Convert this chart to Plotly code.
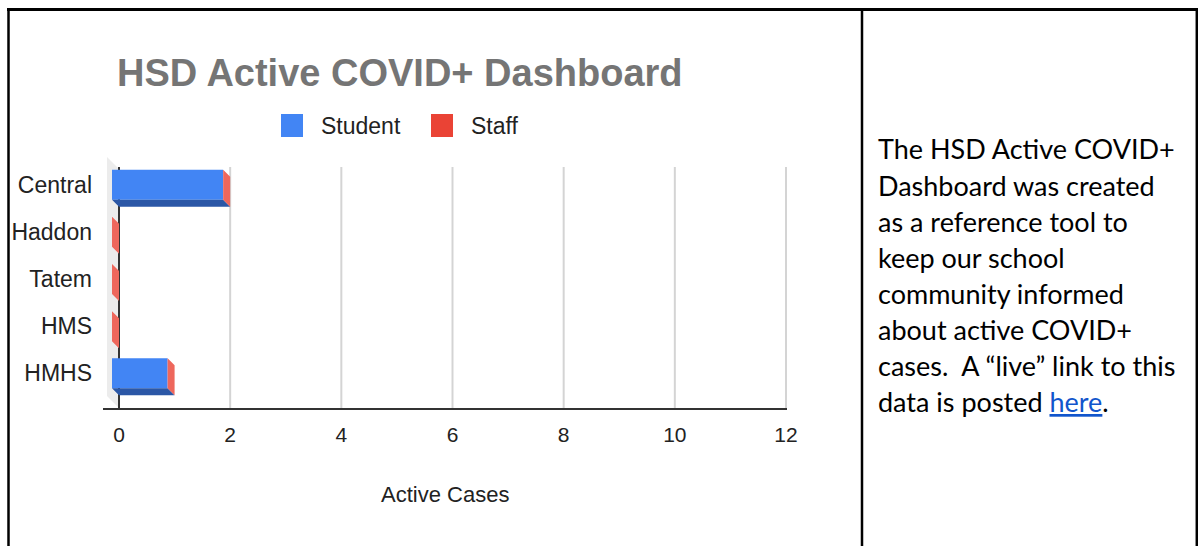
import plotly.graph_objects as go

# ---------------- data ----------------
schools = ["Central", "Haddon", "Tatem", "HMS", "HMHS"]
student = [2, 0, 0, 0, 1]
staff = [0, 0, 0, 0, 0]
x_ticks = [0, 2, 4, 6, 8, 10, 12]
chart_title = "HSD Active COVID+ Dashboard"
x_title = "Active Cases"
series_names = ["Student", "Staff"]
side_lines = [
    "The HSD Active COVID+",
    "Dashboard was created",
    "as a reference tool to",
    "keep our school",
    "community informed",
    "about active COVID+",
    "cases.\u00a0 A \u201clive\u201d link to this",
    "data is posted <span style='color:#1155cc;text-decoration:underline'>here</span>.",
]

# ---------------- styling / geometry ----------------
W, H = 1198, 546
def px(x):
    return x / W
def py(y):
    return 1 - y / H

BLUE = "#4285f4"
BLUE_DARK = "#2b57a6"
RED = "#ea4335"
RED_SIDE = "#ee675c"
RED_DARK = "#a8352b"
WALL = "#ececec"
GRID = "#d4d4d4"
AXIS = "#333333"
TXT = "#222222"

x_range = [-0.288, 12.018]
y_range = [4.587, -0.778]
plot_l, plot_r, plot_t, plot_b = 103, 787, 155, 408
x_unit = (plot_r - plot_l) / (x_range[1] - x_range[0])
y_unit = (plot_b - plot_t) / (y_range[0] - y_range[1])
dx = 7 / x_unit
dy = 7 / y_unit
half = 15 / y_unit
wall_dx = 12 / x_unit
wall_dy = 12 / y_unit
grid_top = (167 - plot_t) / y_unit + y_range[1]

idx = list(range(len(schools)))
front_y = [i - dy for i in idx]

fig = go.Figure()

# front faces
totals = [s + t for s, t in zip(student, staff)]
fig.add_trace(go.Bar(orientation="h", y=front_y, x=student, base=[-dx] * len(idx),
                     width=2 * half, marker=dict(color=BLUE, line=dict(width=0)),
                     name=series_names[0], showlegend=False))
fig.add_trace(go.Bar(orientation="h", y=front_y, x=staff, base=[s - dx for s in student],
                     width=2 * half, marker=dict(color=RED, line=dict(width=0)),
                     name=series_names[1], showlegend=False))

# bottom faces
def bottom_faces(starts, ends):
    xs, ys = [], []
    for i, a, b in zip(idx, starts, ends):
        if b <= a:
            continue
        yf = i - dy + half
        yb = i + half
        xs += [a - dx, b - dx, b, a, a - dx, None]
        ys += [yf, yf, yb, yb, yf, None]
    return xs, ys

bx, by = bottom_faces([0] * len(idx), student)
fig.add_trace(go.Scatter(x=bx, y=by, mode="lines", line=dict(width=0), fill="toself",
                         fillcolor=BLUE_DARK, hoverinfo="skip", showlegend=False))
rx_, ry_ = bottom_faces(student, totals)
if rx_:
    fig.add_trace(go.Scatter(x=rx_, y=ry_, mode="lines", line=dict(width=0), fill="toself",
                             fillcolor=RED_DARK, hoverinfo="skip", showlegend=False))

# right (end) faces of the stacked bars (last series colour)
sx, sy = [], []
for i, e in zip(idx, totals):
    sx += [e - dx, e, e, e - dx, e - dx, None]
    sy += [i - dy - half, i - half, i + half, i - dy + half, i - dy - half, None]
fig.add_trace(go.Scatter(x=sx, y=sy, mode="lines", line=dict(width=0), fill="toself",
                         fillcolor=RED_SIDE, hoverinfo="skip", showlegend=False))

shapes = []
# side wall of the 3D box (behind everything)
wall_top = grid_top + 0.04
wall_pts = [(0, wall_top), (-wall_dx, wall_top - wall_dy), (-wall_dx, y_range[0] - wall_dy), (0, y_range[0])]
wall_path = "M " + " L ".join(f"{a},{b}" for a, b in wall_pts) + " Z"
shapes.append(dict(type="path", xref="x", yref="y", path=wall_path, fillcolor=WALL,
                   line=dict(width=0), layer="below"))
# gridlines on back wall
for t in x_ticks[1:]:
    shapes.append(dict(type="line", xref="x", yref="y", x0=t, x1=t, y0=grid_top, y1=y_range[0],
                       line=dict(color=GRID, width=2), layer="below"))
# zero line
shapes.append(dict(type="line", xref="x", yref="y", x0=0, x1=0, y0=grid_top, y1=y_range[0],
                   line=dict(color=AXIS, width=2), layer="between"))

# legend swatches
shapes.append(dict(type="rect", xref="paper", yref="paper", x0=px(281), x1=px(303),
                   y0=py(137), y1=py(114), fillcolor=BLUE, line=dict(width=0)))
shapes.append(dict(type="rect", xref="paper", yref="paper", x0=px(431), x1=px(453),
                   y0=py(137), y1=py(114), fillcolor=RED, line=dict(width=0)))

# table borders
border = dict(color="#000000", width=3)
shapes.append(dict(type="line", xref="paper", yref="paper", x0=px(7), x1=1, y0=py(9.5), y1=py(9.5), line=border))
shapes.append(dict(type="line", xref="paper", yref="paper", x0=px(8.5), x1=px(8.5), y0=py(8), y1=0, line=dict(color="#000", width=2.5)))
shapes.append(dict(type="line", xref="paper", yref="paper", x0=px(862), x1=px(862), y0=py(8), y1=0, line=dict(color="#000", width=2.5)))
shapes.append(dict(type="line", xref="paper", yref="paper", x0=px(1196.8), x1=px(1196.8), y0=py(8), y1=0, line=dict(color="#000", width=2.5)))

annotations = []
annotations.append(dict(text="<b>" + chart_title + "</b>", xref="paper", yref="paper",
                        x=px(399.5), y=py(73), xanchor="center", yanchor="middle", showarrow=False,
                        font=dict(family="Liberation Sans, Arial", size=38, color="#757575")))
annotations.append(dict(text=series_names[0], xref="paper", yref="paper", x=px(319), y=py(126),
                        xanchor="left", yanchor="middle", showarrow=False,
                        font=dict(family="Liberation Sans, Arial", size=23, color=TXT)))
annotations.append(dict(text=series_names[1], xref="paper", yref="paper", x=px(469), y=py(126),
                        xanchor="left", yanchor="middle", showarrow=False,
                        font=dict(family="Liberation Sans, Arial", size=23, color=TXT)))
annotations.append(dict(text=x_title, xref="paper", yref="paper", x=px(445), y=py(494),
                        xanchor="center", yanchor="middle", showarrow=False,
                        font=dict(family="Liberation Sans, Arial", size=22, color=TXT)))
for k, line in enumerate(side_lines):
    annotations.append(dict(text=line, xref="paper", yref="paper", x=px(876), y=py(149 + 36 * k),
                            xanchor="left", yanchor="middle", showarrow=False,
                            font=dict(family="Lato", size=27, color="#000000")))

fig.update_layout(
    width=W, height=H, margin=dict(l=0, r=0, t=0, b=0, autoexpand=False),
    paper_bgcolor="white", plot_bgcolor="rgba(0,0,0,0)",
    barmode="overlay", showlegend=False,
    shapes=shapes, annotations=annotations,
    xaxis=dict(domain=[px(plot_l), px(plot_r)], range=x_range, showgrid=False, zeroline=False,
               tickvals=x_ticks, ticktext=[str(t) for t in x_ticks], ticks="",
               showline=True, linecolor=AXIS, linewidth=2, ticklabelstandoff=7,
               tickfont=dict(family="Liberation Sans, Arial", size=21, color=TXT), automargin=False,
               fixedrange=True),
    yaxis=dict(domain=[py(plot_b), py(plot_t)], range=y_range, showgrid=False, zeroline=False,
               tickvals=front_y, ticktext=schools, ticks="", showline=False,
               ticklabelstandoff=10,
               tickfont=dict(family="Liberation Sans, Arial", size=23, color=TXT), automargin=False,
               fixedrange=True),
)

fig.write_html("out.html", config={"displayModeBar": False},
               post_script="document.body.style.margin='0';document.body.style.overflow='hidden';")
